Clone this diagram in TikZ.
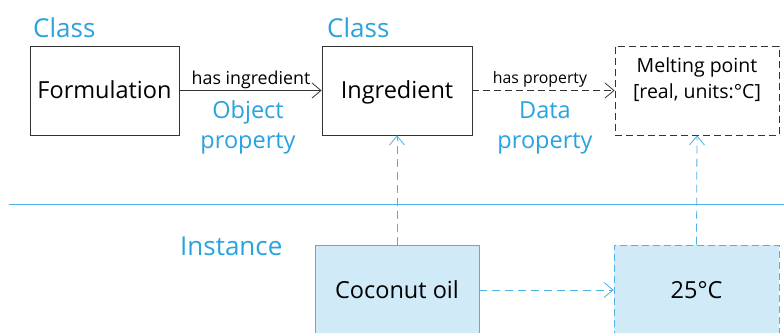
\documentclass[tikz,border=0pt]{standalone}
\usepackage{fontspec}
\setmainfont{Open Sans}
\usetikzlibrary{arrows.meta}
\definecolor{cblue}{HTML}{29A3E0}
\definecolor{lblue}{HTML}{4DB3E6}
\definecolor{fblue}{HTML}{D0EAF7}
\definecolor{dgray}{HTML}{333333}
\tikzset{
  x=1pt, y=-1pt,
  tip/.style={-{Straight Barb[length=9pt,width=15pt]}},
  blackdash/.style={dash pattern=on 7pt off 4pt},
  bluedash/.style={dash pattern=on 8pt off 5pt},
  classbox/.style={draw=dgray, line width=0.8pt, rectangle, inner sep=0pt, text height=20pt, text depth=5pt, font=\fontsize{23.5}{28}\selectfont},
  instbox/.style={draw=lblue, fill=fblue, line width=0.8pt, rectangle, inner sep=0pt, text height=20pt, text depth=4pt, font=\fontsize{23.5}{28}\selectfont},
  bluelbl/.style={text=cblue, inner sep=0pt, align=center},
  smalllbl/.style={inner sep=0pt},
}
\begin{document}
\begin{tikzpicture}
\clip (0,0) rectangle (784,332);
\fill[white] (0,0) rectangle (784,332);

% class labels
\node[bluelbl, anchor=base west, font=\fontsize{26}{30}\selectfont] (cls1) at (33,37) {Class};
\node[bluelbl, anchor=base west, font=\fontsize{26}{30}\selectfont] (cls2) at (327,37) {Class};

% class boxes
\node[classbox, minimum width=149pt, minimum height=89pt] (form) at (104.5,90.5) {Formulation};
\node[classbox, minimum width=150pt, minimum height=89pt] (ingr) at (397,90.5) {Ingredient};
\node[classbox, blackdash, minimum width=164pt, minimum height=89pt] (melt) at (697,90.5) {};
\node[inner sep=0pt, align=center, anchor=base, font=\fontsize{19.5}{26}\selectfont] (melttxt) at (697,98) {Melting point\\{[real, units:°C]}};

% class arrows
\draw[dgray, line width=0.8pt, tip] (form.east) -- (ingr.west);
\draw[dgray, line width=0.8pt, blackdash, tip] (ingr.east) -- (melt.west);

\node[smalllbl, anchor=base, font=\fontsize{17.8}{20}\selectfont] (hasing) at (251,84) {has ingredient};
\node[smalllbl, anchor=base, font=\fontsize{15.8}{20}\selectfont] (hasprop) at (540,83) {has property};
\node[bluelbl, anchor=base, font=\fontsize{23.5}{30}\selectfont] (objprop) at (248,148) {Object\\property};
\node[bluelbl, anchor=base, font=\fontsize{23.5}{30}\selectfont] (dataprop) at (545,148) {Data\\property};

% divider
\coordinate (divl) at (9,204);
\coordinate (divr) at (784,204);
\draw[lblue, line width=0.9pt] (divl) -- (divr);

\node[bluelbl, anchor=base west, font=\fontsize{26}{30}\selectfont] (inst) at (180,255) {Instance};

% instance boxes
\node[instbox, minimum width=164pt, minimum height=90pt] (coco) at (397,290) {Coconut oil};
\node[instbox, blackdash, minimum width=165pt, minimum height=90pt] (temp) at (696.5,290) {25°C};

% instance arrows
\draw[lblue, line width=0.8pt, bluedash, tip] (coco.north) -- (ingr.south);
\draw[lblue, line width=0.8pt, bluedash, tip] (temp.north) -- (melt.south);
\draw[lblue, line width=0.8pt, bluedash, tip] (coco.east) -- (temp.west);
\end{tikzpicture}
\end{document}
